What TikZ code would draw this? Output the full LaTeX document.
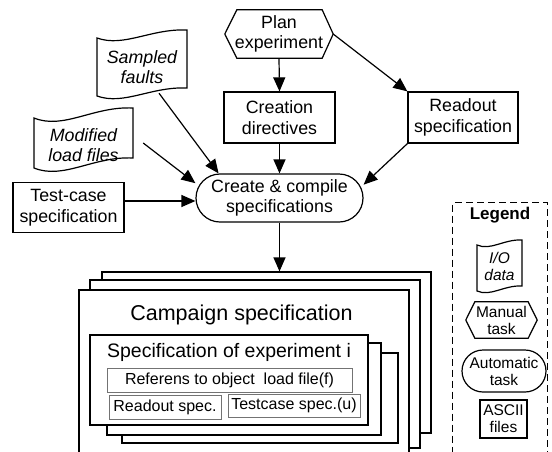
\documentclass[tikz,border=0pt]{standalone}
\usepackage{fontspec}
\setmainfont{Liberation Sans}
\usetikzlibrary{arrows.meta,calc}
\newcommand\mytape[5]{% L R T B a
  \pgfmathsetmacro\tw{#2-#1}
  \draw[shp] (#1,{#3+#5}) .. controls ({#1+0.3*\tw},{#3+2.2*#5}) and ({#1+0.6*\tw},{#3-0.2*#5}) .. (#2,#3)
     -- (#2,{#4-#5}) .. controls ({#1+0.6*\tw},{#4-1.2*#5}) and ({#1+0.3*\tw},{#4+1.2*#5}) .. (#1,#4) -- cycle;
}
\begin{document}
\begin{tikzpicture}[x=1pt,y=-1pt,
  txt/.style={font=\fontsize{17.8}{20.5}\selectfont, align=center, inner sep=0pt},
  box/.style={txt, draw, line width=1.2pt},
  shp/.style={draw, line width=1.2pt, line join=miter},
  arr/.style={draw, line width=1.2pt, -{Triangle[length=14pt,width=12pt]}},
  frame/.style={draw, fill=white, line width=1.2pt, inner sep=0pt},
  inbox/.style={draw=black!55, line width=0.9pt, inner sep=0pt, font=\fontsize{16}{19}\selectfont},
  leg/.style={font=\fontsize{15.5}{17}\selectfont, align=center, inner sep=0pt},
]
\path[use as bounding box, clip] (0,0) rectangle (552,451);

% Plan experiment (manual task)
\node[txt, minimum width=108, minimum height=48] (plan) at (279,34) {Plan\\experiment};
\draw[shp] (plan.west) -- ([xshift=12pt]plan.north west) -- ([xshift=-11pt]plan.north east)
  -- (plan.east) -- ([xshift=-11pt]plan.south east) -- ([xshift=12pt]plan.south west) -- cycle;

% ASCII boxes
\node[box, minimum width=111, minimum height=51] (credir) at (279.5,117.5) {Creation\\directives};
\node[box, minimum width=110, minimum height=51] (readout) at (463,117.5) {Readout\\specification};
\node[box, minimum width=111, minimum height=50] (testcase) at (68.5,207.5) {Test-case\\specification};

% I/O data
\mytape{97}{187}{30}{96}{8}
\node[txt, font=\itshape\fontsize{17.8}{20.5}\selectfont, minimum width=90, minimum height=58] (sampled) at (142,67) {Sampled\\faults};
\mytape{34}{133}{108}{168}{10}
\node[txt, font=\itshape\fontsize{17.8}{20.5}\selectfont, minimum width=99, minimum height=50] (modified) at (83.5,145) {Modified\\load files};

% Automatic task
\node[box, rounded corners=24pt, minimum width=167, minimum height=48] (cc) at (279.5,198) {Create \& compile\\specifications};

% Campaign specification stack
\node[frame, minimum width=329, minimum height=161] (camp3) at (266.5,352.5) {};
\node[frame, minimum width=330, minimum height=168] (camp2) at (255,364) {};
\node[frame, minimum width=330, minimum height=180] (camp1) at (244,380) {};
\node[font=\fontsize{21.5}{24}\selectfont, inner sep=0pt, anchor=base] (ctitle) at (241.5,320) {Campaign specification};

\node[frame, minimum width=276, minimum height=90] (spec3) at (260,398) {};
\node[frame, minimum width=274, minimum height=92] (spec2) at (244,389) {};
\node[frame, minimum width=278, minimum height=90] (spec1) at (229,380) {};
\node[font=\fontsize{19.5}{22}\selectfont, inner sep=0pt, anchor=base] (stitle) at (229,357) {Specification of experiment i};
\node[inbox, minimum width=245, minimum height=24] (ref) at (229.5,380) {Referens to object\ \ load file(f)};
\node[inbox, minimum width=112, minimum height=24] (ros) at (165,407) {Readout spec.};
\node[inbox, minimum width=132, minimum height=23] (tcs) at (294,405.5) {Testcase spec.(u)};

% Connectors
\draw[arr] (plan.south) -- (credir.north);
\draw[arr] (plan.east) -- (readout.north west);
\draw[arr] (credir.south) -- (cc.north);
\draw[arr] (readout.south west) -- (cc.9);
\draw[arr] ([xshift=17pt,yshift=3pt]sampled.south) -- (cc.158);
\draw[arr] ([xshift=10pt,yshift=2pt]modified.east) -- (cc.170);
\draw[arr] ([yshift=6.5pt]testcase.east) -- ([yshift=6.5pt]testcase.east -| cc.west);
\draw[arr] (cc.south) -- (cc.south |- camp3.north);

% Legend
\node[draw, dash pattern=on 7pt off 4pt, line width=1pt, minimum width=95, minimum height=270, anchor=north west, inner sep=0pt] (legend) at (452,202) {};
\node[font=\bfseries\fontsize{17}{19}\selectfont, inner sep=0pt] (legt) at (500,215) {Legend};
\mytape{477}{522}{240}{291}{5}
\node[leg, font=\itshape\fontsize{15.5}{17}\selectfont, minimum width=45, minimum height=44] (io) at (499.5,266) {I/O\\data};
\node[leg, minimum width=71, minimum height=36] (man) at (501.5,320) {Manual\\task};
\draw[shp] (man.west) -- ([xshift=9pt]man.north west) -- ([xshift=-9pt]man.north east)
  -- (man.east) -- ([xshift=-9pt]man.south east) -- ([xshift=9pt]man.south west) -- cycle;
\node[leg, draw, line width=1.2pt, rounded corners=21pt, minimum width=84, minimum height=42] (auto) at (504,371) {Automatic\\task};
\node[leg, draw, line width=1.2pt, minimum width=47, minimum height=38] (ascii) at (503.5,419) {ASCII\\files};
\end{tikzpicture}
\end{document}
